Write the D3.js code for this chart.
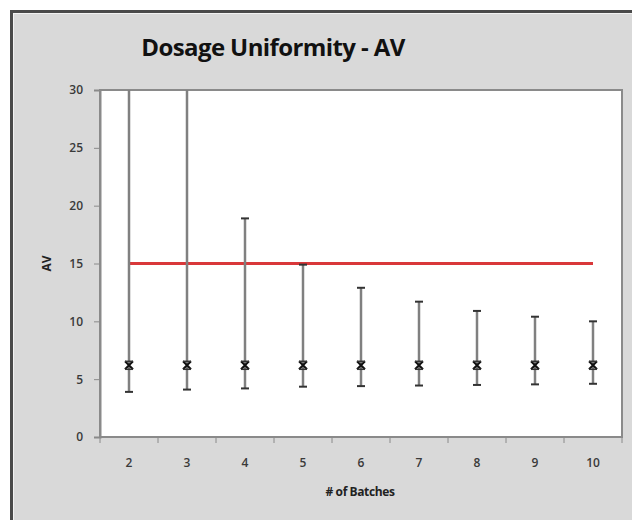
<!DOCTYPE html>
<html lang="en">
<head>
<meta charset="UTF-8">
<title>Dosage Uniformity - AV</title>
<script src="https://cdn.jsdelivr.net/npm/d3@7"></script>
<style>
  html, body { margin: 0; padding: 0; background: #fff; }
  svg { display: block; }
</style>
</head>
<body>
<svg class="root"></svg>
<script>
// data
const batches = [2, 3, 4, 5, 6, 7, 8, 9, 10];
const avMean  = [6.2, 6.2, 6.2, 6.2, 6.2, 6.2, 6.2, 6.2, 6.2];
const avUpper = [40, 40, 18.9, 14.9, 12.9, 11.7, 10.9, 10.4, 10.0];
const avLower = [3.9, 4.1, 4.2, 4.35, 4.4, 4.45, 4.5, 4.55, 4.6];
const limit = 15;
const yTicks = [0, 5, 10, 15, 20, 25, 30];

const width = 632, height = 520;
const margin = {top: 90, right: 10, bottom: 83, left: 100};

const svg = d3.select(".root")
    .attr("width", width)
    .attr("height", height);

// outer chart frame
svg.append("rect")
    .attr("x", 11.5).attr("y", 11.5)
    .attr("width", width + 20).attr("height", height + 20)
    .attr("fill", "#d9d9d9")
    .attr("stroke", "#4a4a4a")
    .attr("stroke-width", 3);
svg.append("rect")
    .attr("x", 13.5).attr("y", 13.5)
    .attr("width", width + 20).attr("height", height + 20)
    .attr("fill", "none")
    .attr("stroke", "#f2f2f2")
    .attr("stroke-width", 1);

const x = d3.scaleBand()
    .domain(batches)
    .range([margin.left, width - margin.right]);

const y = d3.scaleLinear()
    .domain([0, 30])
    .range([height - margin.bottom, margin.top]);

// plot area
svg.append("rect")
    .attr("x", margin.left).attr("y", margin.top)
    .attr("width", width - margin.right - margin.left)
    .attr("height", height - margin.bottom - margin.top)
    .attr("fill", "#fff")
    .attr("stroke", "#8a8a8a")
    .attr("stroke-width", 2);

svg.append("defs").append("clipPath")
    .attr("id", "plot-clip")
  .append("rect")
    .attr("x", margin.left).attr("y", margin.top)
    .attr("width", width - margin.right - margin.left)
    .attr("height", height - margin.bottom - margin.top);

// title
svg.append("text")
    .attr("x", 273).attr("y", 56)
    .attr("text-anchor", "middle")
    .style("font", "bold 24px 'Open Sans', sans-serif")
    .style("letter-spacing", "-0.6px")
    .attr("fill", "#111")
    .text("Dosage Uniformity - AV");

// y axis
svg.append("g")
    .attr("transform", `translate(${margin.left},0)`)
    .call(d3.axisLeft(y).tickValues(yTicks).tickSize(6).tickPadding(11))
    .call(g => g.select(".domain").attr("stroke", "#8a8a8a").attr("stroke-width", 2))
    .call(g => g.selectAll(".tick line").attr("stroke", "#8a8a8a"))
    .call(g => g.selectAll("text")
        .attr("fill", "#3a3a3a")
        .style("font", "600 12px 'Open Sans', sans-serif"));

// x axis: ticks between categories, labels centred
const xAxis = svg.append("g")
    .attr("transform", `translate(0,${height - margin.bottom})`);
xAxis.append("line")
    .attr("x1", margin.left).attr("x2", width - margin.right)
    .attr("stroke", "#8a8a8a").attr("stroke-width", 2);
xAxis.selectAll(".sep")
    .data(batches.concat([null]))
    .join("line")
    .attr("class", "sep")
    .attr("x1", (d, i) => i < batches.length ? x(d) : x(batches[i - 1]) + x.bandwidth())
    .attr("x2", (d, i) => i < batches.length ? x(d) : x(batches[i - 1]) + x.bandwidth())
    .attr("y1", 0).attr("y2", 6)
    .attr("stroke", "#8a8a8a");
xAxis.selectAll(".lbl")
    .data(batches)
    .join("text")
    .attr("class", "lbl")
    .attr("x", d => x(d) + x.bandwidth() / 2)
    .attr("y", 30)
    .attr("text-anchor", "middle")
    .attr("fill", "#3a3a3a")
    .style("font", "600 12px 'Open Sans', sans-serif")
    .text(d => d);

// axis titles
svg.append("text")
    .attr("x", 360).attr("y", 496)
    .attr("text-anchor", "middle")
    .attr("fill", "#222")
    .style("font", "bold 12px 'Open Sans', sans-serif")
    .style("letter-spacing", "-0.4px")
    .text("# of Batches");

svg.append("text")
    .attr("transform", `translate(51,${y(15)}) rotate(-90)`)
    .attr("text-anchor", "middle")
    .attr("fill", "#222")
    .style("font", "bold 12px 'Open Sans', sans-serif")
    .text("AV");

const plot = svg.append("g").attr("clip-path", "url(#plot-clip)");
const cx = d => x(d) + x.bandwidth() / 2;

// limit line
plot.append("line")
    .attr("x1", cx(batches[0]))
    .attr("x2", cx(batches[batches.length - 1]))
    .attr("y1", y(limit)).attr("y2", y(limit))
    .attr("stroke", "#d9383a")
    .attr("stroke-width", 3);

const rows = batches.map((b, i) => ({b, mean: avMean[i], hi: avUpper[i], lo: avLower[i]}));

const bars = plot.selectAll(".err")
    .data(rows)
    .join("g")
    .attr("class", "err");

bars.append("line")
    .attr("x1", d => cx(d.b)).attr("x2", d => cx(d.b))
    .attr("y1", d => y(d.hi)).attr("y2", d => y(d.lo))
    .attr("stroke", "#808080")
    .attr("stroke-width", 2.5);

bars.selectAll(".cap")
    .data(d => [[d.b, d.hi], [d.b, d.lo]])
    .join("line")
    .attr("class", "cap")
    .attr("x1", d => cx(d[0]) - 4).attr("x2", d => cx(d[0]) + 4)
    .attr("y1", d => y(d[1])).attr("y2", d => y(d[1]))
    .attr("stroke", "#333")
    .attr("stroke-width", 2);

bars.append("path")
    .attr("d", d => {
        const px = cx(d.b), py = y(d.mean), r = 4;
        return `M${px - r},${py - r}L${px + r},${py + r}M${px + r},${py - r}L${px - r},${py + r}`;
    })
    .attr("stroke", "#111")
    .attr("stroke-width", 2);

bars.append("line")
    .attr("x1", d => cx(d.b) - 4).attr("x2", d => cx(d.b) + 4)
    .attr("y1", d => y(d.mean) - 4).attr("y2", d => y(d.mean) - 4)
    .attr("stroke", "#333").attr("stroke-width", 1.5);
bars.append("line")
    .attr("x1", d => cx(d.b) - 4).attr("x2", d => cx(d.b) + 4)
    .attr("y1", d => y(d.mean) + 4).attr("y2", d => y(d.mean) + 4)
    .attr("stroke", "#333").attr("stroke-width", 1.5);
</script>
</body>
</html>
